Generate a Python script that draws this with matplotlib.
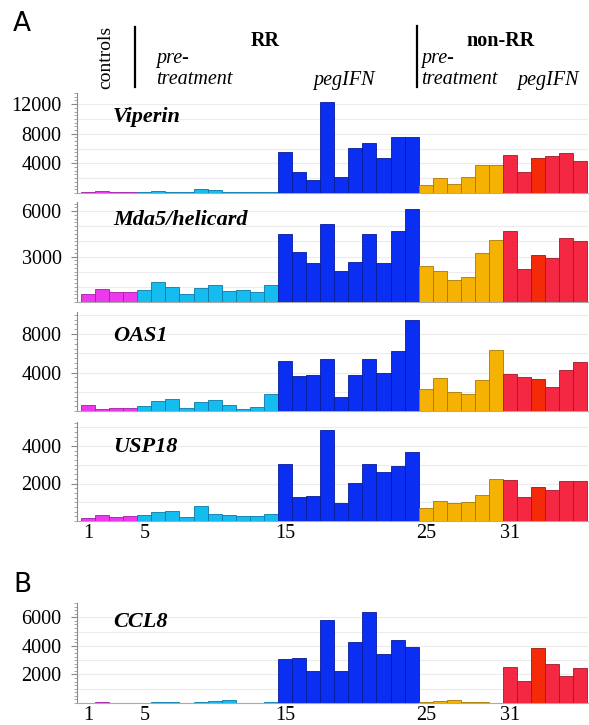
import matplotlib
matplotlib.use("Agg")
import matplotlib.pyplot as plt
import numpy as np
from matplotlib.ticker import MultipleLocator, FixedLocator

samples = list(range(1, 37))
group_names = ["controls", "RR pre-treatment", "RR pegIFN", "non-RR pre-treatment", "non-RR pegIFN"]
group_sizes = [4, 10, 10, 6, 6]

viperin = [180, 270, 100, 100, 140, 230, 180, 180, 500, 360, 180, 90, 90, 180,
           5470, 2890, 1810, 12340, 2170, 6060, 6690, 4700, 7550, 7590,
           1130, 2080, 1220, 2170, 3750, 3840,
           5110, 2800, 4790, 5020, 5420, 4380]
mda5 = [555, 845, 645, 645, 780, 1310, 980, 555, 910, 1155, 710, 780, 690, 1155,
        4470, 3330, 2580, 5180, 2070, 2670, 4470, 2600, 4670, 6110,
        2355, 2045, 1420, 1620, 3220, 4110,
        4670, 2180, 3110, 2910, 4220, 4000]
oas1 = [630, 210, 280, 280, 520, 1045, 1250, 350, 940, 1150, 630, 210, 420, 1810,
        5250, 3650, 3720, 5460, 1500, 3720, 5460, 3970, 6260, 9430,
        2260, 3480, 1950, 1740, 3270, 6330,
        3900, 3510, 3340, 2500, 4250, 5120]
usp18 = [140, 300, 215, 270, 320, 465, 520, 215, 800, 390, 300, 250, 270, 390,
         3040, 1270, 1320, 4880, 965, 2040, 3050, 2590, 2910, 3680,
         680, 1090, 980, 1000, 1410, 2250,
         2180, 1270, 1790, 1680, 2160, 2130]
ccl8 = [20, 70, 20, 20, 20, 70, 70, 20, 70, 160, 230, 20, 20, 45,
        3070, 3120, 2210, 5815, 2260, 4300, 6350, 3420, 4420, 3950,
        45, 140, 185, 70, 70, 0,
        2535, 1560, 3840, 2700, 1880, 2465]

genes = ["Viperin", "Mda5/helicard", "OAS1", "USP18", "CCL8"]
gene_values = [viperin, mda5, oas1, usp18, ccl8]
y_ticks = [[4000, 8000, 12000], [3000, 6000], [4000, 8000], [2000, 4000], [2000, 4000, 6000]]
y_max = [13500, 6600, 10300, 5280, 7000]
grid_step = [2000, 1000, 2000, 1000, 1000]
x_tick_labels = [1, 5, 15, 25, 31]

group_colors = ["#ee38ee", "#14bcf0", "#0a2ef2", "#f6b202", "#f42842"]
group_edges = ["#a020a0", "#0a7aa8", "#061c9a", "#a87800", "#a01828"]
colors, edges = [], []
for c, e, n in zip(group_colors, group_edges, group_sizes):
    colors += [c] * n
    edges += [e] * n
colors[32] = "#f52a08"
edges[32] = "#a01a04"

W, H = 589, 725
fig = plt.figure(figsize=(W / 100, H / 100), dpi=100)
serif = ["Liberation Serif", "DejaVu Serif"]

# axes pixel boxes (top, bottom)
boxes = [(93, 193), (202, 302), (312, 411), (422, 521), (603, 703)]
label_y = [0.76, 0.82, 0.76, 0.75, 0.81]
left_px, right_px = 77, 588
for i, (gene, vals) in enumerate(zip(genes, gene_values)):
    top, bot = boxes[i]
    ax = fig.add_axes([left_px / W, 1 - bot / H, (right_px - left_px) / W, (bot - top) / H])
    ax.bar(samples, vals, width=1.0, color=colors, edgecolor=edges, linewidth=0.6, zorder=3)
    ax.set_xlim(0.216, 36.536)
    ax.set_ylim(0, y_max[i])
    for g in np.arange(grid_step[i], y_max[i], grid_step[i]):
        ax.axhline(g, color="#ececec", lw=0.8, zorder=1)
    ax.yaxis.set_major_locator(FixedLocator(y_ticks[i]))
    ax.yaxis.set_minor_locator(MultipleLocator(grid_step[i] / 4))
    ax.tick_params(axis="y", which="major", length=4, width=0.8, color="#888888", pad=7)
    ax.tick_params(axis="y", which="minor", length=2, width=0.6, color="#999999")
    for lbl in ax.get_yticklabels():
        lbl.set_fontfamily(serif)
        lbl.set_fontsize(14.5)
    if i >= 3:
        ax.set_xticks(x_tick_labels)
        ax.set_xticklabels([str(v) for v in x_tick_labels], fontfamily=serif, fontsize=14.5)
        ax.tick_params(axis="x", length=0, pad=2)
    else:
        ax.set_xticks([])
    for s in ["top", "right"]:
        ax.spines[s].set_visible(False)
    ax.spines["left"].set_color("#888888")
    ax.spines["bottom"].set_color("#aaaaaa")
    ax.spines["left"].set_linewidth(0.8)
    ax.spines["bottom"].set_linewidth(0.8)
    ax.text((113 - left_px) / (right_px - left_px), label_y[i], gene, transform=ax.transAxes,
            fontfamily=serif, fontsize=16, fontweight="bold", fontstyle="italic",
            va="center", ha="left")

def ft(x, y, s, **kw):
    fig.text(x / W, 1 - y / H, s, **kw)

ft(13, 24, "A", fontsize=19, fontfamily="DejaVu Sans", va="center", ha="left")
ft(13, 585, "B", fontsize=19, fontfamily="DejaVu Sans", va="center", ha="left")
ft(106, 57, "controls", fontsize=14, fontfamily=serif, rotation=90, va="center", ha="center")
fig.add_artist(plt.Line2D([135 / W, 135 / W], [1 - 27 / H, 1 - 87 / H], color="black", lw=1.6))
fig.add_artist(plt.Line2D([417 / W, 417 / W], [1 - 26 / H, 1 - 87 / H], color="black", lw=1.6))
ft(265, 41, "RR", fontsize=14.5, fontfamily=serif, fontweight="bold", ha="center", va="center")
ft(501, 41, "non-RR", fontsize=14.5, fontfamily=serif, fontweight="bold", ha="center", va="center")
ft(156, 59, "pre-", fontsize=14.5, fontfamily=serif, fontstyle="italic", va="center")
ft(156, 80, "treatment", fontsize=14.5, fontfamily=serif, fontstyle="italic", va="center")
ft(344, 80, "pegIFN", fontsize=14.5, fontfamily=serif, fontstyle="italic", va="center", ha="center")
ft(421, 59, "pre-", fontsize=14.5, fontfamily=serif, fontstyle="italic", va="center")
ft(421, 80, "treatment", fontsize=14.5, fontfamily=serif, fontstyle="italic", va="center")
ft(548, 80, "pegIFN", fontsize=14.5, fontfamily=serif, fontstyle="italic", va="center", ha="center")

fig.savefig("out.png", dpi=100)
